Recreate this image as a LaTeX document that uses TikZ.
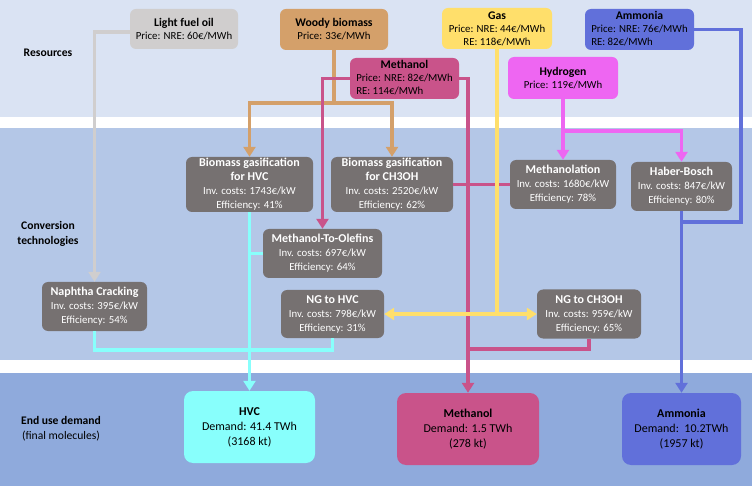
\documentclass[tikz,border=0pt]{standalone}
\usepackage{fontspec}
\setmainfont{Carlito}
\usetikzlibrary{arrows.meta}
\definecolor{bgtop}{HTML}{DAE3F3}
\definecolor{bgmid}{HTML}{B4C7E7}
\definecolor{bgbot}{HTML}{8FAADC}
\definecolor{clfo}{HTML}{D0CECE}
\definecolor{cwood}{HTML}{D4A06A}
\definecolor{cmeth}{HTML}{C9538A}
\definecolor{cgas}{HTML}{FFDF6B}
\definecolor{chyd}{HTML}{EE66F2}
\definecolor{camm}{HTML}{6170DA}
\definecolor{ctech}{HTML}{767171}
\definecolor{chvc}{HTML}{88FFFC}
\newcommand\rtitle{\fontsize{11.7}{13}\selectfont\bfseries}
\newcommand\ttitle{\fontsize{12}{14}\selectfont\bfseries}
\begin{document}
\begin{tikzpicture}[x=1pt,y=-1pt,
 res/.style={rounded corners=6pt, inner sep=0pt, align=center, text=black, font=\fontsize{10.8}{13}\selectfont},
 tech/.style={fill=ctech, rounded corners=6pt, inner sep=0pt, align=center, text=white, font=\fontsize{10.8}{14}\selectfont},
 dem/.style={rounded corners=9pt, inner sep=0pt, align=center, text=black, font=\fontsize{12}{15}\selectfont},
 flow/.style={line width=3.5pt},
 tip/.style={-{Triangle[width=12pt,length=10pt]}},
 lab/.style={align=center, text=black, font=\fontsize{11.6}{15}\selectfont}
]
\useasboundingbox (0,0) rectangle (752,486);
% bands
\fill[white] (0,0) rectangle (752,486);
\fill[bgtop] (0,0) rectangle (752,117);
\fill[bgmid] (0,128) rectangle (752,360);
\fill[bgbot] (0,373) rectangle (752,486);
% labels
\node[lab] (lres) at (48,53) {\bfseries Resources};
\node[lab] (lconv) at (48,234) {\bfseries Conversion\\\bfseries technologies};
\node[lab] (lend) at (61,428.5) {\bfseries End use demand\\(final molecules)};
% resources
\node[res, fill=clfo, minimum width=108pt, minimum height=40pt] (lfo) at (184,29) {{\rtitle Light fuel oil}\\Price: NRE: 60€/MWh};
\node[res, fill=cwood, minimum width=108pt, minimum height=41pt] (wood) at (334,29.5) {{\rtitle Woody biomass}\\Price: 33€/MWh};
\node[res, fill=cmeth, minimum width=109pt, minimum height=41pt] (methr) at (404.5,78.5) {\begin{tabular}{@{}l@{}}\multicolumn{1}{@{}c@{}}{\rtitle Methanol}\\Price: NRE: 82€/MWh\\RE: 114€/MWh\end{tabular}};
\node[res, fill=cgas, minimum width=110pt, minimum height=41pt] (gas) at (497,28.5) {{\rtitle Gas}\\Price: NRE: 44€/MWh\\RE: 118€/MWh};
\node[res, fill=camm, minimum width=109pt, minimum height=41pt] (amm) at (639.5,29.5) {\begin{tabular}{@{}l@{}}\multicolumn{1}{@{}c@{}}{\rtitle Ammonia}\\Price: NRE: 76€/MWh\\RE: 82€/MWh\end{tabular}};
\node[res, fill=chyd, minimum width=110pt, minimum height=42pt] (hyd) at (563,78) {{\rtitle Hydrogen}\\Price: 119€/MWh};
% technologies
\node[tech, minimum width=127pt, minimum height=55pt] (bgh) at (249.5,184.5) {{\ttitle Biomass gasification}\\{\ttitle for HVC}\\Inv. costs: 1743€/kW\\Efficiency: 41\%};
\node[tech, minimum width=122pt, minimum height=55pt] (bgc) at (392,184.5) {{\ttitle Biomass gasification}\\{\ttitle for CH3OH}\\Inv. costs: 2520€/kW\\Efficiency: 62\%};
\node[tech, minimum width=106pt, minimum height=49pt] (meoh) at (563,184.5) {{\ttitle Methanolation}\\Inv. costs: 1680€/kW\\Efficiency: 78\%};
\node[tech, minimum width=101pt, minimum height=49pt] (hb) at (681.5,186.5) {{\ttitle Haber-Bosch}\\Inv. costs: 847€/kW\\Efficiency: 80\%};
\node[tech, minimum width=119pt, minimum height=49pt] (mto) at (322.5,253.5) {{\ttitle Methanol-To-Olefins}\\Inv. costs: 697€/kW\\Efficiency: 64\%};
\node[tech, minimum width=103pt, minimum height=48pt] (ngh) at (332.5,314) {{\ttitle NG to HVC}\\Inv. costs: 798€/kW\\Efficiency: 31\%};
\node[tech, minimum width=104pt, minimum height=49pt] (ngc) at (589,314) {{\ttitle NG to CH3OH}\\Inv. costs: 959€/kW\\Efficiency: 65\%};
\node[tech, minimum width=105pt, minimum height=49pt] (naph) at (94.5,306.5) {{\ttitle Naphtha Cracking}\\Inv. costs: 395€/kW\\Efficiency: 54\%};
% demand
\node[dem, fill=chvc, minimum width=131pt, minimum height=72pt] (hvcd) at (249.5,427) {{\bfseries HVC}\\Demand: 41.4 TWh\\(3168 kt)};
\node[dem, fill=cmeth, minimum width=142pt, minimum height=72pt] (methd) at (468,429) {{\bfseries Methanol}\\Demand: 1.5 TWh\\(278 kt)};
\node[dem, fill=camm, minimum width=119pt, minimum height=72pt] (ammd) at (681.5,429) {{\bfseries Ammonia}\\Demand:\ \ 10.2TWh\\(1957 kt)};
% junction coordinates
\coordinate (wj) at (334,103);
\coordinate (mj) at (468,349);
\coordinate (hj) at (563,131);
\coordinate (aj) at (741,222);
\coordinate (cj) at (332.5,350);
% light fuel oil
\draw[flow, clfo, tip] ([yshift=-3pt]lfo.west) -| (naph.north);
% woody biomass
\draw[flow, cwood] (wood.south) -- (wj);
\draw[flow, cwood, tip] (wj) -| (bgh.north);
\draw[flow, cwood, tip] (wj) -| (bgc.north);
% methanol
\draw[flow, cmeth, tip] (methr.west) -| (mto.north);
\draw[flow, cmeth, tip] (methr.east) -| (methd.north);
\draw[flow, cmeth] (bgc.east) -- (meoh.west);
\draw[flow, cmeth] (ngc.south) |- (mj);
% gas
\draw[flow, cgas] (gas.south) -- (gas.south |- ngh.east);
\draw[flow, cgas, {Triangle[width=12pt,length=10pt]}-{Triangle[width=12pt,length=10pt]}] (ngh.east) -- (ngc.west);
% hydrogen
\draw[flow, chyd, tip] (hyd.south) -- (meoh.north);
\draw[flow, chyd, tip] (hj) -| (hb.north);
% ammonia
\draw[flow, camm] (amm.east) -| (aj) -- (aj -| hb.south);
\draw[flow, camm, tip] (hb.south) -- (ammd.north);
% HVC
\draw[flow, chvc, tip] (bgh.south) -- (hvcd.north);
\draw[flow, chvc] (mto.west) -- (mto.west -| bgh.south);
\draw[flow, chvc] (naph.south) |- (cj) -- (ngh.south);
\end{tikzpicture}
\end{document}
